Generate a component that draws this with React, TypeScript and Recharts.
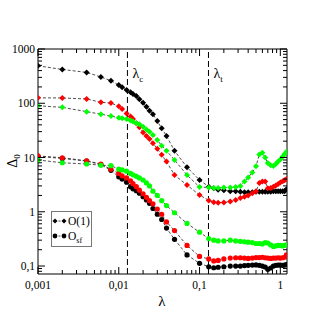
import { LineChart, Line, XAxis, YAxis, ReferenceLine } from "recharts";

// coupling values (shared by all six series)
const lambdas = [
    0.001, 0.002, 0.004, 0.006, 0.008, 0.01, 0.011, 0.0125, 0.014, 0.015,
    0.0165, 0.018, 0.02, 0.022, 0.024, 0.0265, 0.03, 0.034, 0.039, 0.049,
    0.07, 0.1, 0.13, 0.15, 0.17, 0.2, 0.24, 0.28, 0.32, 0.36,
    0.4, 0.45, 0.5, 0.55, 0.6, 0.65, 0.7, 0.76, 0.82, 0.88,
    0.94, 1.0, 1.07, 1.13, 1.19,
];

// O(1) gaps (diamonds)
const blackO1 = [
    490, 420, 370, 305, 260, 217, 197, 175, 160, 148,
    136, 118, 102, 86, 73, 63, 47, 34.5, 25, 13.3,
    6.6, 3.85, 2.9, 2.7, 2.55, 2.5, 2.4, 2.4, 2.35, 2.3,
    2.3, 2.3, 2.35, 2.35, 2.35, 2.35, 2.35, 2.35, 2.4, 2.4,
    2.4, 2.4, 2.4, 2.4, 2.6,
];
const redO1 = [
    126, 125, 120, 104, 101, 88, 78, 65, 57, 51,
    43, 36, 29, 25, 22, 18.3, 14.5, 11.2, 8.4, 4.75,
    3.1, 2.04, 1.62, 1.5, 1.47, 1.48, 1.55, 1.65, 1.8, 1.9,
    2.0, 2.2, 2.4, 3.4, 3.6, 3.6, 2.7, 2.75, 2.9, 3.05,
    3.25, 3.45, 3.65, 3.8, 4.0,
];
const greenO1 = [
    90, 84, 70, 63, 58, 54, 53, 51, 48, 46,
    43, 41, 37, 33, 30, 26, 21, 16.5, 13.3, 9,
    4.75, 2.85, 2.8, 2.75, 2.75, 2.8, 2.8, 2.85, 3.0, 3.6,
    4.3, 5.3, 6.9, 11.4, 12.2, 10.0, 7.9, 7.2, 7.0, 7.6,
    8.4, 9.2, 10.4, 11.6, 12.8,
];

// O_sf gaps (circles)
const blackOsf = [
    10.5, 9.6, 8.6, 7.4, 5.8, 4.4, 4.0, 3.5, 2.9, 2.65,
    2.45, 2.2, 1.9, 1.65, 1.43, 1.15, 0.9, 0.72, 0.5, 0.31,
    0.16, 0.112, 0.097, 0.093, 0.095, 0.097, 0.1, 0.1, 0.1, 0.102,
    0.103, 0.104, 0.105, 0.103, 0.1, 0.096, 0.087, 0.092, 0.1, 0.103,
    0.104, 0.104, 0.103, 0.104, 0.106,
];
const redOsf = [
    10.7, 9.9, 8.7, 7.6, 6.05, 5.1, 4.6, 4.2, 3.7, 3.3,
    2.9, 2.5, 2.15, 1.85, 1.6, 1.4, 1.12, 0.9, 0.65, 0.45,
    0.24, 0.15, 0.135, 0.124, 0.127, 0.135, 0.14, 0.142, 0.142, 0.14,
    0.138, 0.14, 0.143, 0.143, 0.145, 0.142, 0.14, 0.138, 0.14, 0.14,
    0.142, 0.14, 0.142, 0.145, 0.16,
];
const greenOsf = [
    9.0, 8.0, 7.6, 7.2, 7.1, 6.1, 5.9, 5.6, 5.1, 4.8,
    4.5, 4.2, 3.85, 3.4, 3.0, 2.4, 2.0, 1.6, 1.3, 0.96,
    0.61, 0.42, 0.32, 0.3, 0.29, 0.29, 0.3, 0.29, 0.285, 0.28,
    0.275, 0.27, 0.26, 0.26, 0.255, 0.27, 0.265, 0.245, 0.23, 0.235,
    0.24, 0.24, 0.235, 0.24, 0.245,
];

const lambdaC = 0.0128;
const lambdaT = 0.129;

const xMajor = [0.001, 0.01, 0.1, 1];
const xLabels = ["0,001", "0,01", "0,1", "1"];
const yMajor = [0.1, 1, 10, 100, 1000];
const yLabels = ["0,1", "1", "10", "100", "1000"];

const minorOf = (decades: number[], lo: number, hi: number) =>
    decades
        .flatMap((d) => [2, 3, 4, 5, 6, 7, 8, 9].map((k) => +(k * d).toPrecision(2)))
        .filter((v) => v > lo && v < hi);

const X_DOMAIN = [0.001, 1.21];
const Y_DOMAIN = [0.0713, 1000];
const xTicks = [...xMajor, ...minorOf([0.001, 0.01, 0.1, 1], 0.001, 1.21)];
const yTicks = [...yMajor, ...minorOf([0.01, 0.1, 1, 10, 100], 0.0713, 1000)];

const rows = lambdas.map((lam, i) => ({
    lam,
    bu: blackO1[i],
    ru: redO1[i],
    gu: greenO1[i],
    bl: blackOsf[i],
    rl: redOsf[i],
    gl: greenOsf[i],
}));

const FONT = "'Liberation Serif', 'Times New Roman', serif";
const BLACK = "#000000";
const RED = "#ff0000";
const GREEN = "#00ff00";

const diamond = (color: string) => (p: any) => {
    const { cx, cy, index } = p;
    if (cx == null || cy == null) return <g key={index} />;
    return (
        <path
            key={index}
            d={`M${cx},${cy - 3}L${cx + 3},${cy}L${cx},${cy + 3}L${cx - 3},${cy}Z`}
            fill={color}
        />
    );
};

const circle = (color: string) => (p: any) => {
    const { cx, cy, index } = p;
    if (cx == null || cy == null) return <g key={index} />;
    return <circle key={index} cx={cx} cy={cy} r={2.6} fill={color} />;
};

// ticks point into the plot; the axes sit at the plot edges
const PLOT = { left: 38, right: 287, top: 49, bottom: 274 };

const BottomTick = ({ x, payload }: any) => {
    const i = xMajor.indexOf(payload.value);
    const y = PLOT.bottom;
    return (
        <g>
            <line x1={x} x2={x} y1={y} y2={y - (i >= 0 ? 7 : 4)} stroke="#000" />
            {i >= 0 && (
                <text x={x} y={y + 15} textAnchor="middle" fontSize={11.5} fontFamily={FONT}>
                    {xLabels[i]}
                </text>
            )}
        </g>
    );
};

const TopTick = ({ x, payload }: any) => {
    const major = xMajor.includes(payload.value);
    const y = PLOT.top;
    return <line x1={x} x2={x} y1={y} y2={y + (major ? 7 : 4)} stroke="#000" />;
};

const LeftTick = ({ y, payload }: any) => {
    const i = yMajor.indexOf(payload.value);
    const x = PLOT.left;
    return (
        <g>
            <line x1={x} x2={x + (i >= 0 ? 7 : 4)} y1={y} y2={y} stroke="#000" />
            {i >= 0 && (
                <text x={x - 3} y={y} dy="0.35em" textAnchor="end" fontSize={11.5} fontFamily={FONT}>
                    {yLabels[i]}
                </text>
            )}
        </g>
    );
};

const RightTick = ({ y, payload }: any) => {
    const major = yMajor.includes(payload.value);
    const x = PLOT.right;
    return <line x1={x} x2={x - (major ? 7 : 4)} y1={y} y2={y} stroke="#000" />;
};

const LambdaLabel = ({ viewBox, sub }: any) => {
    const { x, y } = viewBox;
    return (
        <text x={x + 5} y={y + 29} fontSize={14} fontFamily={FONT}>
            λ
            <tspan fontSize={9} dy={4}>
                {sub}
            </tspan>
        </text>
    );
};

export default function App() {
    const lineProps = {
        type: "linear" as const,
        stroke: "#222",
        strokeWidth: 0.8,
        strokeDasharray: "3 2",
        isAnimationActive: false,
    };
    const axisCommon = {
        type: "number" as const,
        scale: "log" as const,
        allowDataOverflow: true,
        interval: 0 as const,
        tickSize: 0,
        tickMargin: 0,
        tickLine: false,
        axisLine: { stroke: "#000" },
    };

    return (
        <div style={{ position: "absolute", left: 0, top: 0, width: 332, height: 332, background: "#fff" }}>
            <LineChart
                width={332}
                height={332}
                data={rows}
                margin={{ top: 48, right: 44, bottom: 57, left: 37 }}
            >
                <XAxis {...axisCommon} dataKey="lam" domain={X_DOMAIN} ticks={xTicks} height={1} tick={BottomTick} />
                <XAxis
                    {...axisCommon}
                    xAxisId="top"
                    orientation="top"
                    dataKey="lam"
                    domain={X_DOMAIN}
                    ticks={xTicks}
                    height={1}
                    tick={TopTick}
                />
                <YAxis {...axisCommon} domain={Y_DOMAIN} ticks={yTicks} width={1} tick={LeftTick} />
                <YAxis
                    {...axisCommon}
                    yAxisId="right"
                    orientation="right"
                    domain={Y_DOMAIN}
                    ticks={yTicks}
                    width={1}
                    tick={RightTick}
                />

                <ReferenceLine x={lambdaC} stroke="#000" strokeDasharray="6 3" label={<LambdaLabel sub="c" />} />
                <ReferenceLine x={lambdaT} stroke="#000" strokeDasharray="6 3" label={<LambdaLabel sub="t" />} />

                <Line {...lineProps} dataKey="bu" dot={diamond(BLACK)} />
                <Line {...lineProps} dataKey="ru" dot={diamond(RED)} />
                <Line {...lineProps} dataKey="gu" dot={diamond(GREEN)} />
                <Line {...lineProps} dataKey="bl" dot={circle(BLACK)} />
                <Line {...lineProps} dataKey="rl" dot={circle(RED)} />
                <Line {...lineProps} dataKey="gl" dot={circle(GREEN)} />
            </LineChart>

            <svg width={332} height={332} style={{ position: "absolute", left: 0, top: 0, pointerEvents: "none" }}>
                <text x={162} y={306} textAnchor="middle" fontSize={15} fontFamily={FONT}>
                    λ
                </text>
                <text transform="translate(17,161) rotate(-90)" textAnchor="middle" fontSize={14} fontFamily={FONT}>
                    Δ
                    <tspan fontSize={9} dy={3}>
                        0
                    </tspan>
                </text>

                <rect x={51.5} y={211.5} width={40} height={35} fill="#fff" stroke="#777" />
                <line x1={55} x2={64} y1={221} y2={221} stroke="#222" strokeWidth={0.8} strokeDasharray="2 1.5" />
                <path d="M55,218.5L57.5,221L55,223.5L52.5,221Z" fill={BLACK} />
                <path d="M64,218.5L66.5,221L64,223.5L61.5,221Z" fill={BLACK} />
                <text x={68} y={225} fontSize={11.5} fontFamily={FONT}>
                    O(1)
                </text>
                <line x1={55} x2={64} y1={236} y2={236} stroke="#222" strokeWidth={0.8} strokeDasharray="2 1.5" />
                <circle cx={55} cy={236} r={2.4} fill={BLACK} />
                <circle cx={64} cy={236} r={2.4} fill={BLACK} />
                <text x={68} y={240} fontSize={11.5} fontFamily={FONT}>
                    O
                    <tspan fontSize={8} dy={3}>
                        sf
                    </tspan>
                </text>
            </svg>
        </div>
    );
}
